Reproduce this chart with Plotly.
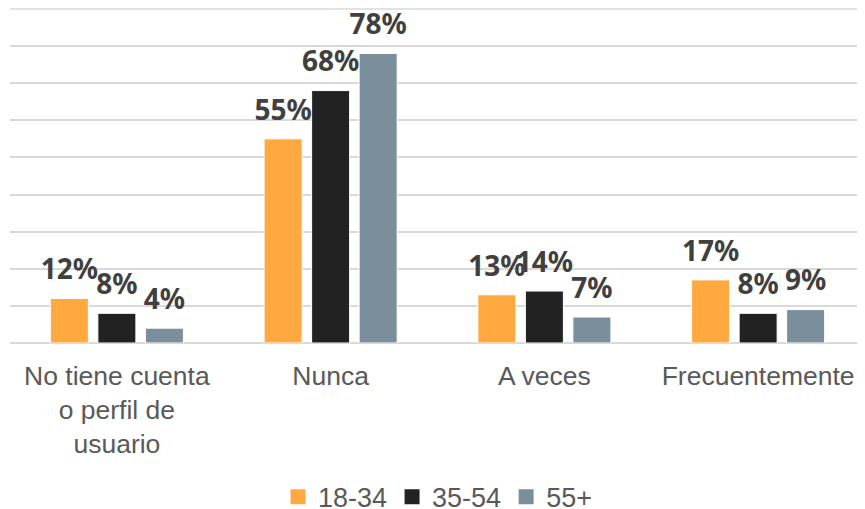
import plotly.graph_objects as go

categories = ["No tiene cuenta<br>o perfil de<br>usuario", "Nunca", "A veces", "Frecuentemente"]
series_names = ["18-34", "35-54", "55+"]
v_18_34 = [12, 55, 13, 17]
v_35_54 = [8, 68, 14, 8]
v_55 = [4, 78, 7, 9]
values = [v_18_34, v_35_54, v_55]
colors = ["#FFA940", "#222222", "#7A8F9B"]
axis_max = 90

fig = go.Figure()
for name, vals, col in zip(series_names, values, colors):
    fig.add_trace(go.Bar(
        x=categories, y=vals, name=name, offsetgroup=name,
        marker=dict(color=col, line=dict(color="white", width=1)),
        showlegend=False, hoverinfo="skip",
    ))
for name, vals, col in zip(series_names, values, colors):
    fig.add_trace(go.Scatter(
        x=categories, y=vals, mode="markers+text", offsetgroup=name,
        text=[f"{v}%" for v in vals], textposition="top center",
        textfont=dict(family="Noto Sans", size=28, color="#404040", weight="bold"),
        marker=dict(size=18, color="rgba(0,0,0,0)"),
        showlegend=False, hoverinfo="skip", cliponaxis=False,
    ))
# legend-only entries on hidden axes
for name, col in zip(series_names, colors):
    fig.add_trace(go.Scatter(
        x=[None], y=[None], mode="markers", name=name,
        marker=dict(symbol="square", size=15, color=col),
        xaxis="x2", yaxis="y2",
    ))

# top gridline (plotly drops the grid line sitting on the plot edge)
fig.add_shape(type="line", xref="paper", x0=0, x1=1, yref="y", y0=axis_max, y1=axis_max,
              line=dict(color="#D9D9D9", width=1.5), layer="below")

# the page body adds an 8px offset, so the figure is 8px smaller
fig.update_layout(
    width=857, height=501,
    margin=dict(l=2, r=0, t=0, b=166, pad=0, autoexpand=False),
    paper_bgcolor="white", plot_bgcolor="white",
    barmode="group", bargap=0.333, bargroupgap=0.2,
    scattermode="group", scattergap=0.333,
    font=dict(family="Liberation Sans, Arial", color="#595959", size=26),
    xaxis=dict(showgrid=False, showline=False, ticks="", tickfont=dict(size=26.5, color="#595959"),
               tickangle=0, fixedrange=True, automargin=False, ticklabelstandoff=14),
    yaxis=dict(range=[0, axis_max + 0.25], tick0=0, dtick=10, showticklabels=False, gridcolor="#D9D9D9",
               gridwidth=1.5, zeroline=True, zerolinecolor="#D9D9D9", zerolinewidth=1.5,
               showline=False, fixedrange=True, automargin=False),
    xaxis2=dict(overlaying="x", visible=False),
    yaxis2=dict(overlaying="y", visible=False),
    legend=dict(orientation="h", x=0.5, xanchor="center", y=-0.46, yanchor="middle",
                font=dict(size=27, color="#595959"), itemsizing="trace", traceorder="normal"),
)

fig.write_html("out.html")
